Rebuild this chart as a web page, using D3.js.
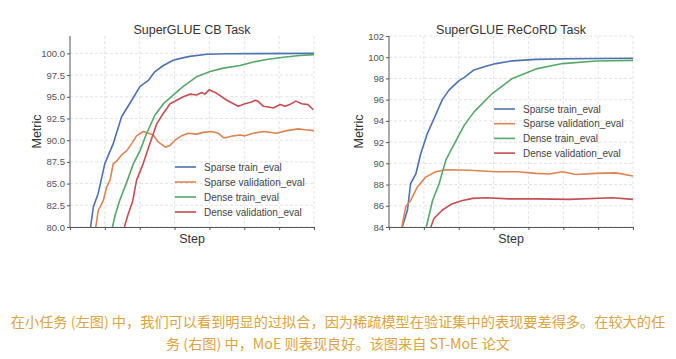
<!DOCTYPE html>
<html>
<head>
<meta charset="utf-8">
<script src="https://cdn.jsdelivr.net/npm/d3@7/dist/d3.min.js"></script>
<style>
  html, body { margin: 0; padding: 0; background: #fff; }
  svg { display: block; }
</style>
</head>
<body>
<svg id="chart" width="676" height="359"></svg>
<script>
// ---------------- DATA ----------------
const seriesNames = ["Sparse train_eval", "Sparse validation_eval", "Dense train_eval", "Dense validation_eval"];
const seriesColors = ["#4c72b0", "#dd8452", "#55a868", "#c44e52"];
const xTicks = [0, 1, 2, 3, 4, 5, 6, 7];

// Left chart: SuperGLUE CB Task  (x in step-grid units, y metric)
const cbTitle = "SuperGLUE CB Task";
const cbYTicks = [80.0, 82.5, 85.0, 87.5, 90.0, 92.5, 95.0, 97.5, 100.0];
const cbSparseTrain = [[0.59,79.9],[0.67,82.3],[0.81,83.9],[1.0,87.3],[1.24,89.6],[1.48,92.7],[1.77,94.6],[2.01,96.2],[2.25,96.9],[2.44,97.9],[2.68,98.6],[2.96,99.2],[3.2,99.45],[3.44,99.65],[3.92,99.9],[4.5,99.95],[7,100.0]];
const cbSparseVal = [[0.74,79.9],[0.81,81.9],[0.96,83.1],[1.05,84.6],[1.15,85.4],[1.24,87.3],[1.34,87.6],[1.48,88.3],[1.63,88.8],[1.77,89.6],[1.91,90.5],[2.1,91.0],[2.25,90.8],[2.39,90.6],[2.53,89.8],[2.73,89.2],[2.87,89.4],[3.01,90.0],[3.2,90.5],[3.39,90.8],[3.63,90.7],[3.82,90.9],[4.06,91.0],[4.25,90.8],[4.4,90.3],[4.49,90.3],[4.69,90.5],[4.88,90.6],[5.02,90.5],[5.26,90.8],[5.55,91.0],[5.93,90.8],[6.22,91.1],[6.55,91.3],[6.74,91.2],[7.0,91.1]];
const cbDenseTrain = [[1.22,79.9],[1.29,81.3],[1.43,83.1],[1.63,85.2],[1.82,87.3],[2.01,88.8],[2.2,90.8],[2.44,92.9],[2.68,94.2],[2.96,95.2],[3.25,96.2],[3.63,97.3],[4.02,97.9],[4.4,98.3],[4.88,98.6],[5.26,99.0],[5.64,99.3],[6.12,99.55],[6.6,99.75],[7.0,99.85]];
const cbDenseVal = [[1.56,79.9],[1.67,81.5],[1.8,83.0],[1.91,85.4],[2.1,87.3],[2.29,89.6],[2.49,91.9],[2.68,93.1],[2.87,94.2],[3.06,94.6],[3.25,95.0],[3.44,95.3],[3.63,95.2],[3.78,95.5],[3.87,95.3],[3.99,95.8],[4.21,95.4],[4.5,94.6],[4.69,94.2],[4.83,93.9],[5.02,94.2],[5.21,94.4],[5.31,94.6],[5.39,94.5],[5.55,93.9],[5.74,93.8],[5.83,93.7],[6.03,94.1],[6.17,93.9],[6.3,94.1],[6.48,94.5],[6.65,94.2],[6.83,94.1],[6.98,93.5]];

// Right chart: SuperGLUE ReCoRD Task
const rcTitle = "SuperGLUE ReCoRD Task";
const rcYTicks = [84, 86, 88, 90, 92, 94, 96, 98, 100, 102];
const rcSparseTrain = [[0.38,84.0],[0.53,85.6],[0.62,88.1],[0.77,89.0],[0.91,90.9],[1.1,92.8],[1.29,94.2],[1.53,96.0],[1.72,96.9],[2.01,97.8],[2.16,98.1],[2.44,98.8],[2.78,99.15],[3.07,99.4],[3.54,99.66],[4.22,99.8],[5.17,99.85],[7.0,99.9]];
const rcSparseVal = [[0.37,84.0],[0.48,85.9],[0.62,86.5],[0.82,87.8],[1.05,88.7],[1.34,89.2],[1.63,89.4],[2.3,89.35],[3.07,89.2],[3.69,89.2],[4.22,89.05],[4.6,89.0],[4.98,89.2],[5.36,88.95],[5.94,89.05],[6.51,89.1],[7.0,88.8]];
const rcDenseTrain = [[1.07,84.0],[1.25,86.5],[1.44,88.1],[1.63,90.3],[1.82,91.5],[2.16,93.6],[2.44,94.85],[2.97,96.6],[3.54,98.0],[4.22,98.9],[4.98,99.4],[5.94,99.65],[7.0,99.7]];
const rcDenseVal = [[1.2,84.0],[1.29,84.8],[1.53,85.6],[1.82,86.2],[2.11,86.5],[2.4,86.7],[2.78,86.75],[3.45,86.65],[4.22,86.65],[5.17,86.6],[6.41,86.75],[7.0,86.6]];

const captionLines = [
  "在小任务 (左图) 中，我们可以看到明显的过拟合，因为稀疏模型在验证集中的表现要差得多。在较大的任",
  "务 (右图) 中，MoE 则表现良好。该图来自 ST-MoE 论文"
];

// ---------------- DRAW ----------------
const svg = d3.select("#chart");
const FONT = "'Liberation Sans', Arial, Helvetica, sans-serif";

function panel(opts) {
  const g = svg.append("g");
  const x = d3.scaleLinear().domain([0, 7]).range([opts.x0, opts.x1]);
  const y = d3.scaleLinear().domain(opts.yDomain).range([227, 36]);

  // grid
  g.append("g").selectAll("line.h").data(opts.yTicks).join("line")
    .attr("x1", opts.x0).attr("x2", opts.x1)
    .attr("y1", d => y(d)).attr("y2", d => y(d))
    .attr("stroke", "#dcdcdc").attr("stroke-width", 0.8).attr("stroke-dasharray", "3,2");
  g.append("g").selectAll("line.v").data(xTicks.slice(1)).join("line")
    .attr("x1", d => x(d)).attr("x2", d => x(d))
    .attr("y1", 36).attr("y2", 227)
    .attr("stroke", "#dcdcdc").attr("stroke-width", 0.8).attr("stroke-dasharray", "3,2");

  // lines
  const line = d3.line().x(d => x(d[0])).y(d => y(Math.max(d[1], opts.yDomain[0]))).curve(d3.curveLinear);
  const clipId = "clip" + opts.id;
  svg.append("clipPath").attr("id", clipId).append("rect")
    .attr("x", opts.x0).attr("y", 30).attr("width", opts.x1 - opts.x0 + 2).attr("height", 227 - 30);
  opts.series.forEach((s, i) => {
    g.append("path").datum(s).attr("d", line)
      .attr("fill", "none").attr("stroke", seriesColors[i]).attr("stroke-width", 1.6)
      .attr("stroke-linejoin", "round").attr("clip-path", `url(#${clipId})`);
  });

  // axes
  const yAxis = d3.axisLeft(y).tickValues(opts.yTicks).tickFormat(opts.fmt).tickSize(3).tickPadding(2);
  const ya = g.append("g").attr("transform", `translate(${opts.x0},0)`).call(yAxis);
  const xAxis = d3.axisBottom(x).tickValues(xTicks).tickFormat("").tickSize(3);
  const xa = g.append("g").attr("transform", `translate(0,227)`).call(xAxis);
  [ya, xa].forEach(a => {
    a.select(".domain").attr("stroke", "#555").attr("stroke-width", 1);
    a.selectAll(".tick line").attr("stroke", "#555");
    a.selectAll("text").attr("fill", "#555").style("font-family", FONT).style("font-size", "9.5px");
  });
  ya.select(".domain").attr("d", `M-0,${y(opts.yDomain[1])}V227`);

  // title & labels
  const cx = (opts.x0 + opts.x1) / 2;
  g.append("text").attr("x", cx).attr("y", 34).attr("text-anchor", "middle")
    .attr("fill", "#333").style("font-family", FONT).style("font-size", "12.5px").text(opts.title);
  g.append("text").attr("x", cx).attr("y", 243).attr("text-anchor", "middle")
    .attr("fill", "#333").style("font-family", FONT).style("font-size", "12.5px").text("Step");
  g.append("text").attr("transform", `translate(${opts.ylabX},131.5) rotate(-90)`).attr("text-anchor", "middle")
    .attr("fill", "#333").style("font-family", FONT).style("font-size", "12.5px").text("Metric");

  // legend
  const lg = g.append("g");
  seriesNames.forEach((n, i) => {
    const yy = opts.legY + i * opts.legStep;
    lg.append("line").attr("x1", opts.legX).attr("x2", opts.legX + 21).attr("y1", yy).attr("y2", yy)
      .attr("stroke", seriesColors[i]).attr("stroke-width", 1.6);
    lg.append("text").attr("x", opts.legX + 29).attr("y", yy).attr("dy", "0.35em")
      .attr("fill", "#444").style("font-family", FONT).style("font-size", "10px").text(n);
  });
}

panel({
  id: "cb", x0: 70, x1: 314, yDomain: [80, 102], yTicks: cbYTicks, fmt: d3.format(".1f"),
  title: cbTitle, ylabX: 41, legX: 175, legY: 167, legStep: 15,
  series: [cbSparseTrain, cbSparseVal, cbDenseTrain, cbDenseVal]
});
panel({
  id: "rc", x0: 389, x1: 633, yDomain: [84, 102], yTicks: rcYTicks, fmt: d3.format("d"),
  title: rcTitle, ylabX: 363, legX: 494, legY: 109, legStep: 14.7,
  series: [rcSparseTrain, rcSparseVal, rcDenseTrain, rcDenseVal]
});

// caption
captionLines.forEach((t, i) => {
  svg.append("text").attr("x", 338).attr("y", 327 + i * 22).attr("text-anchor", "middle")
    .attr("fill", "#d9a441").style("font-family", "'Noto Sans CJK SC', 'Noto Sans', sans-serif")
    .style("font-size", "14.2px").text(t);
});
</script>
</body>
</html>
